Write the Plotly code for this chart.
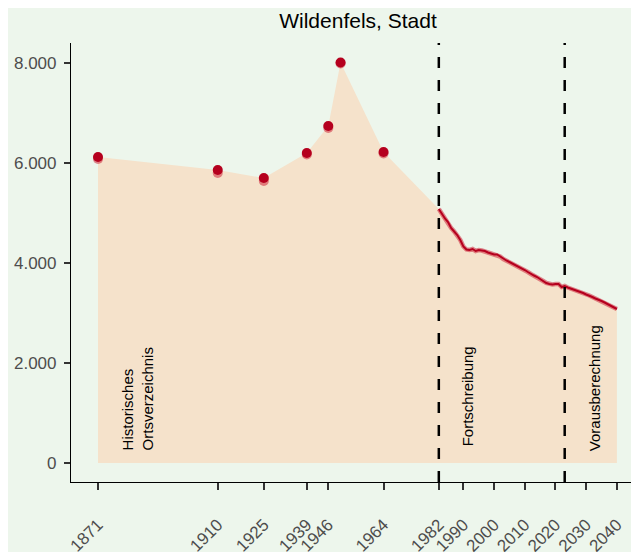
import plotly.graph_objects as go

# ---------------- data ----------------
hist_years = [1871, 1910, 1925, 1939, 1946, 1950, 1964]
hist_pop = [6120, 5860, 5700, 6200, 6740, 8010, 6220]
hist_pop_alt = [6080, 5800, 5640, 6170, 6700, 7990, 6190]

proj_years = list(range(1982, 2041))
proj_pop = [5080, 4980, 4890, 4820, 4700, 4630, 4560, 4460, 4330, 4270,
            4260, 4280, 4240, 4260, 4250, 4240, 4210, 4190, 4170, 4170,
            4130, 4080, 4050, 4020, 3990, 3950, 3920, 3890, 3860, 3820,
            3780, 3750, 3720, 3680, 3640, 3600, 3580, 3570, 3580, 3580,
            3520, 3540, 3510, 3490, 3470, 3450, 3420, 3400, 3370, 3350,
            3320, 3290, 3270, 3240, 3210, 3180, 3150, 3120, 3080]

tick_years = [1871, 1910, 1925, 1939, 1946, 1964, 1982, 1990, 2000, 2010, 2020, 2030, 2040]
y_ticks = [0, 2000, 4000, 6000, 8000]
y_ticktext = ["0", "2.000", "4.000", "6.000", "8.000"]

period_breaks = [1982, 2023]
title_text = "Wildenfels, Stadt"

# ---------------- styles ----------------
BG = "#EDF6EC"
FILL = "#F5E2CB"
DARK = "#B5001E"
LIGHT = "rgba(205,40,60,0.55)"
FONT = "Liberation Sans"
OFF = 8  # page body margin offset in the browser

fig = go.Figure()

fig.add_trace(go.Scatter(
    x=hist_years + proj_years, y=hist_pop + proj_pop,
    mode="lines", fill="tozeroy", fillcolor=FILL,
    line=dict(width=0, color=FILL), hoverinfo="skip", showlegend=False))

fig.add_trace(go.Scatter(
    x=proj_years, y=proj_pop, mode="lines",
    line=dict(color=LIGHT, width=4.5), showlegend=False))
fig.add_trace(go.Scatter(
    x=proj_years, y=proj_pop, mode="lines",
    line=dict(color=DARK, width=2), showlegend=False))

fig.add_trace(go.Scatter(
    x=hist_years, y=hist_pop_alt, mode="markers",
    marker=dict(color=LIGHT, size=10), showlegend=False))
fig.add_trace(go.Scatter(
    x=hist_years, y=hist_pop, mode="markers",
    marker=dict(color=DARK, size=10), showlegend=False))

for xb in period_breaks:
    fig.add_shape(type="line", xref="x", yref="paper", x0=xb, x1=xb, y0=0, y1=1,
                  line=dict(color="black", width=2.5, dash="11px,12px"), layer="above")

ann_font = dict(family=FONT, size=15, color="black")
fig.add_annotation(x=1884.0, y=220, xref="x", yref="y", text="Historisches<br>Ortsverzeichnis",
                   textangle=-90, showarrow=False, xanchor="center", yanchor="bottom",
                   align="left", font=ann_font)
fig.add_annotation(x=1991.3, y=300, xref="x", yref="y", text="Fortschreibung",
                   textangle=-90, showarrow=False, xanchor="center", yanchor="bottom",
                   font=ann_font)
fig.add_annotation(x=2032.6, y=200, xref="x", yref="y", text="Vorausberechnung",
                   textangle=-90, showarrow=False, xanchor="center", yanchor="bottom",
                   font=ann_font)

tickfont = dict(family=FONT, size=17, color="#4D4D4D")
fig.update_layout(
    width=639, height=552,
    margin=dict(l=71 - OFF, r=OFF, t=43 - OFF, b=552 - 482 + OFF, autoexpand=False),
    paper_bgcolor=BG, plot_bgcolor=BG,
    font=dict(family=FONT),
    title=dict(text=title_text, x=(358 - OFF) / 639, xref="container", xanchor="center",
               y=1 - (21 - OFF) / 552, yref="container", yanchor="middle",
               font=dict(family=FONT, size=21, color="black")),
    xaxis=dict(range=[1862.2, 2047.2], tickmode="array", tickvals=tick_years,
               ticktext=[str(t) for t in tick_years], tickangle=-45,
               ticks="outside", ticklen=7, tickwidth=1.5, tickcolor="#333333",
               ticklabelstandoff=18, automargin=False,
               showline=True, linecolor="black", linewidth=1.2,
               showgrid=False, zeroline=False, tickfont=tickfont),
    yaxis=dict(range=[-380, 8400], tickmode="array", tickvals=y_ticks,
               ticktext=y_ticktext, ticks="outside", ticklen=6, tickwidth=2,
               ticklabelstandoff=4, automargin=False,
               tickcolor="#333333", showline=True, linecolor="black", linewidth=1.2,
               showgrid=False, zeroline=False, tickfont=tickfont),
)

fig.write_html("out.html")
